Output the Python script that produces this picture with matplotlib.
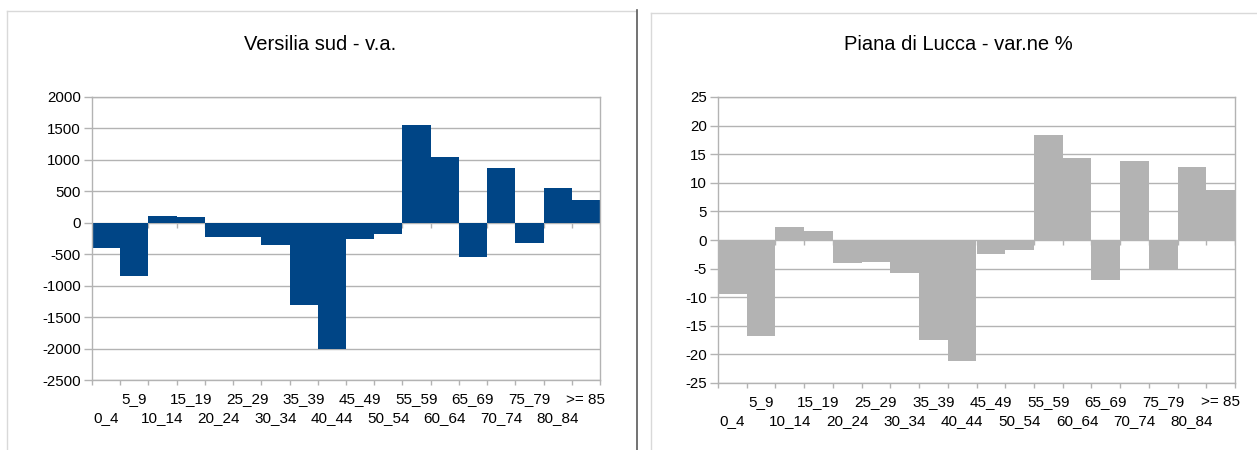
import matplotlib.pyplot as plt
import numpy as np
from matplotlib.lines import Line2D

plt.rcParams['font.family'] = ['Liberation Sans', 'DejaVu Sans']

# age classes
classes = ['0_4', '5_9', '10_14', '15_19', '20_24', '25_29', '30_34', '35_39',
           '40_44', '45_49', '50_54', '55_59', '60_64', '65_69', '70_74',
           '75_79', '80_84', '>= 85']

# Versilia sud - absolute change
versilia_va = [-400, -845, 115, 85, -225, -225, -355, -1305, -2015, -265,
               -180, 1560, 1050, -545, 875, -325, 560, 355]

# Piana di Lucca - % change
lucca_pct = [-9.4, -16.8, 2.2, 1.6, -4.0, -3.9, -5.7, -17.5, -21.2, -2.5,
             -1.8, 18.3, 14.3, -7.0, 13.8, -5.3, 12.7, 8.7]

W, H = 1257, 450
fig = plt.figure(figsize=(W / 100, H / 100), dpi=100)

grid_col = '#b3b3b3'


def draw_panel(rect, values, color, yticks, title, title_x):
    ax = fig.add_axes(rect)
    n = len(classes)
    x = np.arange(n)
    bounds = np.arange(n + 1) - 0.5
    ylo, yhi = yticks[0], yticks[-1]
    ax_h = rect[3] * H

    # small marks where the category axis crosses zero
    tick_len = (yhi - ylo) * 5 / ax_h
    ax.vlines(bounds, 0, -tick_len, color=grid_col, lw=1, zorder=1)
    # tick marks on the bottom edge between categories
    ax.vlines(bounds, 0, -5 / ax_h, color=grid_col, lw=1, clip_on=False,
              transform=ax.get_xaxis_transform())

    ax.bar(x, values, width=1.0, color=color, zorder=2, linewidth=0)

    ax.set_xlim(-0.5, n - 0.5)
    ax.set_ylim(ylo, yhi)
    ax.set_yticks(yticks)
    ax.set_yticklabels([str(v) for v in yticks])
    ax.yaxis.grid(True, color=grid_col, lw=1)
    ax.set_axisbelow(True)

    # labels alternate between two rows: odd classes up, even classes down
    ax.set_xticks(x[1::2])
    ax.set_xticklabels(classes[1::2])
    ax.set_xticks(x[0::2], minor=True)
    ax.set_xticklabels(classes[0::2], minor=True)
    ax.tick_params(axis='x', which='major', length=0, pad=9.0, labelsize=11)
    ax.tick_params(axis='x', which='minor', length=0, pad=22.0, labelsize=11)
    ax.tick_params(axis='y', length=6, color=grid_col, width=1, pad=2,
                   labelsize=10.8)

    for s in ax.spines.values():
        s.set_color(grid_col)
        s.set_linewidth(1)

    fig.text(title_x / W, 1 - 50 / H, title, ha='center', va='baseline',
             fontsize=14.5)
    return ax


draw_panel([92 / W, (H - 380) / H, 508 / W, 283 / H], versilia_va, '#004586',
           list(range(-2500, 2001, 500)), 'Versilia sud - v.a.', 320)
draw_panel([718 / W, (H - 383) / H, 517 / W, 286 / H], lucca_pct, '#b3b3b3',
           list(range(-25, 26, 5)), 'Piana di Lucca - var.ne %', 958)

# chart frames and the divider between them
frame_col = '#d9d9d9'


def fig_line(xs, ys, **kw):
    fig.add_artist(Line2D([v / W for v in xs], [1 - v / H for v in ys],
                          transform=fig.transFigure, **kw))


fig_line([7, 7], [11, H], color=frame_col, lw=1)
fig_line([7, 636], [11, 11], color=frame_col, lw=1)
fig_line([651, 651], [13, H], color=frame_col, lw=1)
fig_line([651, W], [13, 13], color=frame_col, lw=1)
fig_line([636.5, 636.5], [10, H], color='#5a5a5a', lw=1.2)

fig.savefig('out.png', dpi=100)
